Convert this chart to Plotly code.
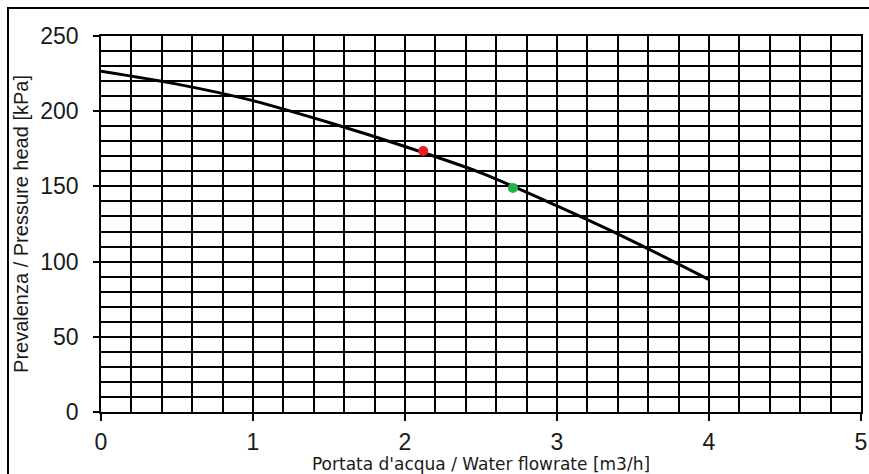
import plotly.graph_objects as go

# Pump curve
flow = [0, 0.5, 1, 1.5, 2, 2.5, 3, 3.5, 4]
head = [226.5, 218, 207, 192.5, 176.5, 159, 137, 113.5, 88]

# Operating points
red_pt_x = [2.12]
red_pt_y = [173.5]
green_pt_x = [2.71]
green_pt_y = [149]

x_ticks = [0, 1, 2, 3, 4, 5]
y_ticks = [0, 50, 100, 150, 200, 250]

W, H = 869, 474
ml, mr, mt, mb = 101, 8, 36, 62
pw, ph = W - ml - mr, H - mt - mb

fig = go.Figure()
fig.add_trace(go.Scatter(x=flow, y=head, mode="lines",
                         line=dict(color="black", width=3, shape="spline", smoothing=0.8),
                         hoverinfo="skip", showlegend=False))
fig.add_trace(go.Scatter(x=red_pt_x, y=red_pt_y, mode="markers",
                         marker=dict(color="#ed1c24", size=10), showlegend=False))
fig.add_trace(go.Scatter(x=green_pt_x, y=green_pt_y, mode="markers",
                         marker=dict(color="#22b14c", size=10), showlegend=False))

axis_common = dict(
    showline=True, mirror=True, linecolor="black", linewidth=1.5,
    showgrid=True, gridcolor="black", gridwidth=1.6,
    zeroline=False, ticks="outside", tickcolor="black", tickwidth=1.5,
    tickfont=dict(family="Liberation Sans, Arial", size=23, color="#1a1a1a"),
)

fig.update_xaxes(
    range=[0, 5], tickvals=x_ticks, ticklen=7,
    minor=dict(dtick=0.2, showgrid=True, gridcolor="black", gridwidth=1.6, ticks=""),
    title=dict(text="Portata d'acqua / Water flowrate [m3/h]",
               font=dict(family="DejaVu Sans", size=17, color="#1a1a1a"), standoff=5),
    ticklabelstandoff=2,
    **axis_common,
)
fig.update_yaxes(
    range=[0, 250], tickvals=y_ticks, ticklen=6,
    minor=dict(dtick=10, showgrid=True, gridcolor="black", gridwidth=1.6, ticks=""),
    title=dict(text="Prevalenza / Pressure head [kPa]",
               font=dict(family="Liberation Sans, Arial", size=20, color="#1a1a1a"), standoff=6),
    ticklabelstandoff=10,
    **axis_common,
)

# Outer frame of the picture
fig.add_shape(type="rect", xref="paper", yref="paper",
              x0=(8 - ml) / pw, x1=(W + 10 - ml) / pw,
              y0=(mt + ph - (H + 10)) / ph, y1=(mt + ph - 8) / ph,
              line=dict(color="black", width=2), fillcolor="rgba(0,0,0,0)", layer="below")

fig.update_layout(
    width=W, height=H,
    margin=dict(l=ml, r=mr, t=mt, b=mb, autoexpand=False),
    paper_bgcolor="white", plot_bgcolor="white",
    showlegend=False,
)

fig.write_html("out.html",
               config={"displayModeBar": False},
               post_script="document.documentElement.style.margin='0';"
                           "document.body.style.margin='0';"
                           "document.documentElement.style.overflow='hidden';"
                           "document.body.style.overflow='hidden';")
